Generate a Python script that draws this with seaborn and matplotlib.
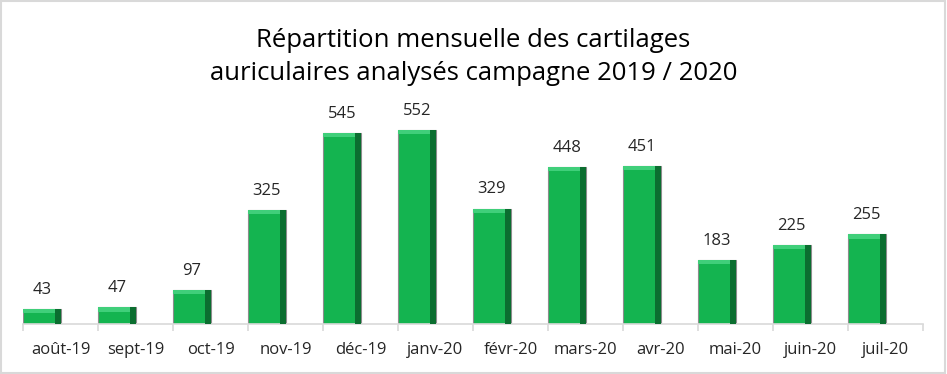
import pandas as pd
import seaborn as sns
import matplotlib.pyplot as plt
from matplotlib.patches import Rectangle

# Data
months = ["août-19", "sept-19", "oct-19", "nov-19", "déc-19", "janv-20",
          "févr-20", "mars-20", "avr-20", "mai-20", "juin-20", "juil-20"]
counts = [43, 47, 97, 325, 545, 552, 329, 448, 451, 183, 225, 255]

df = pd.DataFrame({"mois": months, "n": counts})

sns.set_theme(style="white")
plt.rcParams["font.family"] = ["Open Sans", "DejaVu Sans"]

fig = plt.figure(figsize=(9.47, 3.74), dpi=100)
ax = fig.add_axes([0.0243, 0.1337, 0.9504, 0.61])

sns.barplot(data=df, x="mois", y="n", color="#14b450", width=0.5,
            saturation=1, edgecolor="#8c8c8c", linewidth=0.8, ax=ax)

# fake bevel: darker right side, lighter top
for p in ax.patches:
    x, y, w, h = p.get_x(), p.get_y(), p.get_width(), p.get_height()
    ax.add_patch(Rectangle((x + w * 0.85, y), w * 0.15, h, color="#0b6e30", lw=0, zorder=3))
    ax.add_patch(Rectangle((x, y + h - 12), w * 0.85, 12, color="#40cf7a", lw=0, zorder=3))

ax.set_ylim(0, 650)
ax.set_xlim(-0.25, len(months) - 0.25)

# value labels
for i, v in enumerate(counts):
    ax.annotate(str(v), (i, v), xytext=(0, 8), textcoords="offset points",
                ha="center", va="bottom", fontsize=12, color="#262626")

# ticks: labels centred in category, marks at category boundaries
ax.set_xticks([i + 0.25 for i in range(len(months))])
ax.set_xticklabels(months, fontsize=12, color="#262626")
ax.set_xticks([i - 0.25 for i in range(len(months) + 1)], minor=True)
ax.tick_params(axis="x", which="major", length=0, pad=13)
ax.tick_params(axis="x", which="minor", length=5, color="#d9d9d9", width=1.2, bottom=True)
ax.set_yticks([])
ax.set_xlabel("")
ax.set_ylabel("")
for s in ["top", "right", "left"]:
    ax.spines[s].set_visible(False)
ax.spines["bottom"].set_color("#d9d9d9")
ax.spines["bottom"].set_linewidth(1.2)

fig.text(0.5, 0.893, "Répartition mensuelle des cartilages", ha="center",
         va="center", fontsize=18.5, color="#000000")
fig.text(0.5, 0.803, "auriculaires analysés campagne 2019 / 2020", ha="center",
         va="center", fontsize=18.5, color="#000000")

# outer frame
fig.patches.append(Rectangle((0.001, 0.002), 0.997, 0.995, transform=fig.transFigure,
                             fill=False, edgecolor="#d9d9d9", linewidth=1.5))

plt.savefig("out.png", dpi=100)
plt.close()
